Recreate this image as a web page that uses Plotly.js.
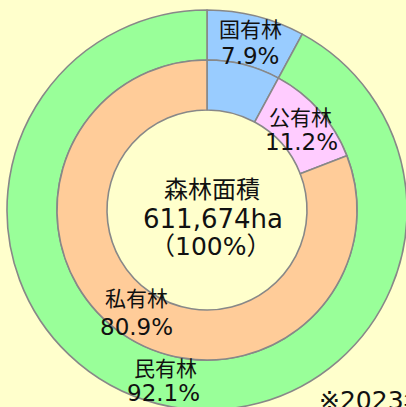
<!DOCTYPE html>
<html>
<head>
<meta charset="utf-8">
<script src="https://cdn.plot.ly/plotly-3.0.1.min.js"></script>
<style>
html,body{margin:0;padding:0;overflow:hidden;background:#ffffcc;}
#chart{width:410px;height:420px;}
</style>
</head>
<body>
<div id="chart"></div>
<script>
// Outer ring: 国有林 / 民有林
const outerLabels = ["国有林", "民有林"];
const outerValues = [7.9, 92.1];
const outerColors = ["#99ccff", "#99ff99"];
// Inner ring: 国有林 / 公有林 / 私有林
const innerLabels = ["国有林", "公有林", "私有林"];
const innerValues = [7.9, 11.2, 80.9];
const innerColors = ["#99ccff", "#ffccff", "#ffcc99"];
// Centre text and note
const centerTitle = "森林面積";
const centerArea = "611,674ha";
const centerShare = "（100%）";
const noteText = "※2023年度末現在";

const W = 410, H = 420;
const CJK = '"Noto Sans CJK JP", sans-serif';
const NUM = '"DejaVu Sans", "Noto Sans CJK JP", sans-serif';
function px(x){return x/W;}
function py(y){return 1 - y/H;}

const line = {color:"#888888", width:1.6};

const outer = {
  type:"pie", labels:outerLabels, values:outerValues, sort:false,
  direction:"clockwise", rotation:0, hole:0.75,
  marker:{colors:outerColors, line:line},
  textinfo:"none", hoverinfo:"label+percent", showlegend:false,
  domain:{x:[px(7), px(407)], y:[py(410), py(10)]}
};
const inner = {
  type:"pie", labels:innerLabels, values:innerValues, sort:false,
  direction:"clockwise", rotation:0, hole:0.6667,
  marker:{colors:innerColors, line:line},
  textinfo:"none", hoverinfo:"label+percent", showlegend:false,
  domain:{x:[px(57), px(357)], y:[py(360), py(60)]}
};

function ann(text, x, y, size, fam, anchor){
  return {text:text, x:px(x), y:py(y), xref:"paper", yref:"paper",
    showarrow:false, xanchor:anchor||"center", yanchor:"middle",
    font:{family:fam, size:size, color:"#111111"}};
}
function pct(v){return v.toFixed(1) + "%";}

const annotations = [
  ann(outerLabels[0], 250, 28, 21, CJK),
  ann(pct(outerValues[0]), 250, 56, 23, NUM),
  ann(innerLabels[1], 300, 116, 21, CJK),
  ann(pct(innerValues[1]), 301, 142, 23, NUM),
  ann(innerLabels[2], 136, 297, 21, CJK),
  ann(pct(innerValues[2]), 136, 327, 23, NUM),
  ann(outerLabels[1], 165, 367, 21, CJK),
  ann(pct(outerValues[1]), 163, 393, 23, NUM),
  ann(centerTitle, 212, 188, 24, CJK),
  ann(centerArea, 213, 219, 26, NUM),
  ann(centerShare, 210, 246, 25, NUM),
  ann(noteText, 317, 400, 25, NUM, "left")
];

Plotly.newPlot("chart", [outer, inner], {
  width:W, height:H,
  margin:{l:0,r:0,t:0,b:0},
  paper_bgcolor:"#ffffcc", plot_bgcolor:"#ffffcc",
  annotations:annotations
}, {displayModeBar:false, staticPlot:true});
</script>
</body>
</html>
